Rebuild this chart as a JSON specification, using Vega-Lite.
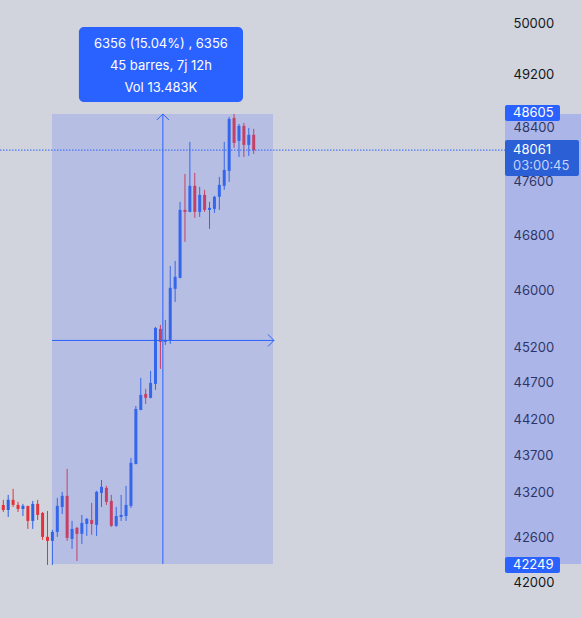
{
  "$schema": "https://vega.github.io/schema/vega-lite/v6.json",
  "width": 581,
  "height": 618,
  "autosize": {"type": "none"},
  "padding": 0,
  "background": "#d1d4dc",
  "config": {
    "view": {"stroke": null},
    "font": "Inter",
    "scale": {"continuousPadding": 0},
    "axisY": {"orient": "right", "offset": -76, "domain": false, "ticks": false, "grid": false, "labelPadding": 8, "labelFontSize": 13, "labelColor": "#131722", "labelFont": "Inter", "labelOverlap": false, "labelFlush": false, "zindex": 1, "format": "d"}
  },
  "datasets": {
    "candles": [
      {"i": 1, "o": 43033, "h": 43101, "l": 42939, "c": 42966},
      {"i": 2, "o": 42966, "h": 43168, "l": 42872, "c": 43101},
      {"i": 3, "o": 43101, "h": 43249, "l": 43006, "c": 43033},
      {"i": 4, "o": 43033, "h": 43074, "l": 42939, "c": 42979},
      {"i": 5, "o": 42979, "h": 43047, "l": 42885, "c": 43020},
      {"i": 6, "o": 43020, "h": 43020, "l": 42713, "c": 42819},
      {"i": 7, "o": 42819, "h": 43087, "l": 42713, "c": 43047},
      {"i": 8, "o": 43047, "h": 43101, "l": 42832, "c": 42899},
      {"i": 9, "o": 42925, "h": 42939, "l": 42567, "c": 42607},
      {"i": 10, "o": 42607, "h": 42952, "l": 42236, "c": 42554},
      {"i": 11, "o": 42554, "h": 42700, "l": 42236, "c": 42673},
      {"i": 12, "o": 42673, "h": 43128, "l": 42607, "c": 43020},
      {"i": 13, "o": 43006, "h": 43209, "l": 42912, "c": 43155},
      {"i": 14, "o": 43155, "h": 43519, "l": 42554, "c": 42594},
      {"i": 15, "o": 42581, "h": 42819, "l": 42448, "c": 42713},
      {"i": 16, "o": 42726, "h": 42740, "l": 42289, "c": 42647},
      {"i": 17, "o": 42647, "h": 42899, "l": 42514, "c": 42793},
      {"i": 18, "o": 42779, "h": 42859, "l": 42620, "c": 42846},
      {"i": 19, "o": 42832, "h": 43060, "l": 42634, "c": 42779},
      {"i": 20, "o": 42766, "h": 43222, "l": 42620, "c": 43209},
      {"i": 21, "o": 43195, "h": 43370, "l": 43006, "c": 43276},
      {"i": 22, "o": 43262, "h": 43289, "l": 43033, "c": 43074},
      {"i": 23, "o": 43087, "h": 43168, "l": 42740, "c": 42753},
      {"i": 24, "o": 42753, "h": 43006, "l": 42740, "c": 42885},
      {"i": 25, "o": 42872, "h": 43168, "l": 42819, "c": 42899},
      {"i": 26, "o": 42885, "h": 43289, "l": 42819, "c": 43033},
      {"i": 27, "o": 43020, "h": 43668, "l": 42993, "c": 43600},
      {"i": 28, "o": 43586, "h": 44380, "l": 43580, "c": 44339},
      {"i": 29, "o": 44325, "h": 44769, "l": 44320, "c": 44533},
      {"i": 30, "o": 44547, "h": 44617, "l": 44408, "c": 44492},
      {"i": 31, "o": 44492, "h": 44867, "l": 44485, "c": 44700},
      {"i": 32, "o": 44686, "h": 45486, "l": 44603, "c": 45472},
      {"i": 33, "o": 45458, "h": 45515, "l": 44895, "c": 45275},
      {"i": 34, "o": 45275, "h": 45585, "l": 45232, "c": 45303},
      {"i": 35, "o": 45303, "h": 46358, "l": 45246, "c": 46043},
      {"i": 36, "o": 46029, "h": 46431, "l": 45842, "c": 46201},
      {"i": 37, "o": 46186, "h": 47292, "l": 46180, "c": 47174},
      {"i": 38, "o": 47174, "h": 47706, "l": 46707, "c": 47145},
      {"i": 39, "o": 47145, "h": 48184, "l": 47140, "c": 47529},
      {"i": 40, "o": 47529, "h": 47721, "l": 47057, "c": 47145},
      {"i": 41, "o": 47145, "h": 47514, "l": 47071, "c": 47396},
      {"i": 42, "o": 47396, "h": 47470, "l": 47145, "c": 47174},
      {"i": 43, "o": 47174, "h": 47292, "l": 46897, "c": 47204},
      {"i": 44, "o": 47189, "h": 47382, "l": 47130, "c": 47367},
      {"i": 45, "o": 47367, "h": 47662, "l": 47174, "c": 47544},
      {"i": 46, "o": 47529, "h": 48184, "l": 47470, "c": 47765},
      {"i": 47, "o": 47751, "h": 48560, "l": 47588, "c": 48530},
      {"i": 48, "o": 48545, "h": 48605, "l": 48094, "c": 48169},
      {"i": 49, "o": 48199, "h": 48455, "l": 47959, "c": 48425},
      {"i": 50, "o": 48425, "h": 48470, "l": 47959, "c": 48139},
      {"i": 51, "o": 48139, "h": 48395, "l": 47974, "c": 48290},
      {"i": 52, "o": 48290, "h": 48380, "l": 48004, "c": 48061}
    ]
  },
  "layer": [
    {
      "data": {"values": [{"x1": 103.18, "x2": 118.66, "y1": 42249, "y2": 48605}]},
      "mark": {"type": "rect", "fill": "#5d72ff", "opacity": 0.32},
      "encoding": {
        "x": {"field": "x1", "type": "quantitative", "scale": {"domain": [0.328, 118.66], "nice": false, "zero": false, "padding": 0}, "axis": null},
        "x2": {"field": "x2"},
        "y": {"field": "y1", "type": "quantitative", "scale": {"type": "log", "domain": [41544, 50361], "nice": false},
          "axis": {"values": [42000, 42600, 43200, 43700, 44200, 44700, 45200, 46000, 46800, 47600, 48400, 49200, 50000], "title": null}},
        "y2": {"field": "y2"}
      }
    },
    {
      "data": {"name": "candles"},
      "mark": {"type": "rule", "strokeWidth": 1},
      "encoding": {
        "x": {"field": "i", "type": "quantitative", "scale": {"domain": [0.328, 118.66], "nice": false, "zero": false, "padding": 0}, "axis": null},
        "y": {"field": "l", "type": "quantitative", "scale": {"type": "log", "domain": [41544, 50361], "nice": false},
          "axis": {"values": [42000, 42600, 43200, 43700, 44200, 44700, 45200, 46000, 46800, 47600, 48400, 49200, 50000], "title": null}},
        "y2": {"field": "h"},
        "color": {"condition": {"test": "datum.c >= datum.o", "value": "#2a63e6"}, "value": "#e2333b"}
      }
    },
    {
      "data": {"name": "candles"},
      "mark": {"type": "bar", "size": 3},
      "encoding": {
        "x": {"field": "i", "type": "quantitative", "scale": {"domain": [0.328, 118.66], "nice": false, "zero": false, "padding": 0}, "axis": null},
        "y": {"field": "o", "type": "quantitative", "scale": {"type": "log", "domain": [41544, 50361], "nice": false},
          "axis": {"values": [42000, 42600, 43200, 43700, 44200, 44700, 45200, 46000, 46800, 47600, 48400, 49200, 50000], "title": null}},
        "y2": {"field": "c"},
        "color": {"condition": {"test": "datum.c >= datum.o", "value": "#2a63e6"}, "value": "#e2333b"}
      }
    },
    {
      "data": {"values": [{"x1": 10.92, "x2": 55.93, "y1": 42249, "y2": 48605}]},
      "mark": {"type": "rect", "fill": "#5d72ff", "opacity": 0.22},
      "encoding": {
        "x": {"field": "x1", "type": "quantitative", "scale": {"domain": [0.328, 118.66], "nice": false, "zero": false, "padding": 0}, "axis": null},
        "x2": {"field": "x2"},
        "y": {"field": "y1", "type": "quantitative", "scale": {"type": "log", "domain": [41544, 50361], "nice": false},
          "axis": {"values": [42000, 42600, 43200, 43700, 44200, 44700, 45200, 46000, 46800, 47600, 48400, 49200, 50000], "title": null}},
        "y2": {"field": "y2"}
      }
    },
    {
      "data": {"values": [{"x1": 0.328, "x2": 103.18, "p": 48061}]},
      "mark": {"type": "rule", "stroke": "#2962ff", "strokeWidth": 1, "strokeDash": [1.5, 1.5]},
      "encoding": {
        "x": {"field": "x1", "type": "quantitative", "scale": {"domain": [0.328, 118.66], "nice": false, "zero": false, "padding": 0}, "axis": null},
        "x2": {"field": "x2"},
        "y": {"field": "p", "type": "quantitative", "scale": {"type": "log", "domain": [41544, 50361], "nice": false},
          "axis": {"values": [42000, 42600, 43200, 43700, 44200, 44700, 45200, 46000, 46800, 47600, 48400, 49200, 50000], "title": null}}
      }
    },
    {
      "data": {"values": [{"x1": 33.5, "x2": 33.5, "y1": 42249, "y2": 48605}, {"x1": 10.92, "x2": 56.1, "y1": 45295, "y2": 45295}]},
      "mark": {"type": "rule", "stroke": "#2962ff", "strokeWidth": 1},
      "encoding": {
        "x": {"field": "x1", "type": "quantitative", "scale": {"domain": [0.328, 118.66], "nice": false, "zero": false, "padding": 0}, "axis": null},
        "x2": {"field": "x2"},
        "y": {"field": "y1", "type": "quantitative", "scale": {"type": "log", "domain": [41544, 50361], "nice": false},
          "axis": {"values": [42000, 42600, 43200, 43700, 44200, 44700, 45200, 46000, 46800, 47600, 48400, 49200, 50000], "title": null}},
        "y2": {"field": "y2"}
      }
    },
    {
      "data": {"values": [{"x": 33.5, "y": 48605, "s": "up"}]},
      "mark": {"type": "point", "shape": "M-1,1L0,0L1,1", "filled": false, "stroke": "#2962ff", "strokeWidth": 1, "size": 144, "opacity": 1},
      "encoding": {
        "x": {"field": "x", "type": "quantitative", "scale": {"domain": [0.328, 118.66], "nice": false, "zero": false, "padding": 0}, "axis": null},
        "y": {"field": "y", "type": "quantitative", "scale": {"type": "log", "domain": [41544, 50361], "nice": false},
          "axis": {"values": [42000, 42600, 43200, 43700, 44200, 44700, 45200, 46000, 46800, 47600, 48400, 49200, 50000], "title": null}}
      }
    },
    {
      "data": {"values": [{"x": 56.13, "y": 45295, "s": "right"}]},
      "mark": {"type": "point", "shape": "M-1,-1L0,0L-1,1", "filled": false, "stroke": "#2962ff", "strokeWidth": 1, "size": 144, "opacity": 1},
      "encoding": {
        "x": {"field": "x", "type": "quantitative", "scale": {"domain": [0.328, 118.66], "nice": false, "zero": false, "padding": 0}, "axis": null},
        "y": {"field": "y", "type": "quantitative", "scale": {"type": "log", "domain": [41544, 50361], "nice": false},
          "axis": {"values": [42000, 42600, 43200, 43700, 44200, 44700, 45200, 46000, 46800, 47600, 48400, 49200, 50000], "title": null}}
      }
    },
    {
      "data": {"values": [{"x1": 16.4, "x2": 49.82, "y1": 48787, "y2": 49940}]},
      "mark": {"type": "rect", "fill": "#2962ff", "cornerRadius": 5},
      "encoding": {
        "x": {"field": "x1", "type": "quantitative", "scale": {"domain": [0.328, 118.66], "nice": false, "zero": false, "padding": 0}, "axis": null},
        "x2": {"field": "x2"},
        "y": {"field": "y1", "type": "quantitative", "scale": {"type": "log", "domain": [41544, 50361], "nice": false},
          "axis": {"values": [42000, 42600, 43200, 43700, 44200, 44700, 45200, 46000, 46800, 47600, 48400, 49200, 50000], "title": null}},
        "y2": {"field": "y2"}
      }
    },
    {
      "data": {"values": [
        {"x": 33.1, "y": 49676, "t": "6356 (15.04%) , 6356"},
        {"x": 33.1, "y": 49337, "t": "45 barres, 7j 12h"},
        {"x": 33.1, "y": 49000, "t": "Vol 13.483K"}
      ]},
      "mark": {"type": "text", "color": "#ffffff", "fontSize": 13, "font": "Inter", "align": "center", "baseline": "middle"},
      "encoding": {
        "x": {"field": "x", "type": "quantitative", "scale": {"domain": [0.328, 118.66], "nice": false, "zero": false, "padding": 0}, "axis": null},
        "y": {"field": "y", "type": "quantitative", "scale": {"type": "log", "domain": [41544, 50361], "nice": false},
          "axis": {"values": [42000, 42600, 43200, 43700, 44200, 44700, 45200, 46000, 46800, 47600, 48400, 49200, 50000], "title": null}},
        "text": {"field": "t"}
      }
    },
    {
      "data": {"values": [{"x1": 103.18, "x2": 114.38, "y1": 48499, "y2": 48741}, {"x1": 103.18, "x2": 114.38, "y1": 42131, "y2": 42341}]},
      "mark": {"type": "rect", "fill": "#2962ff", "cornerRadius": 2},
      "encoding": {
        "x": {"field": "x1", "type": "quantitative", "scale": {"domain": [0.328, 118.66], "nice": false, "zero": false, "padding": 0}, "axis": null},
        "x2": {"field": "x2"},
        "y": {"field": "y1", "type": "quantitative", "scale": {"type": "log", "domain": [41544, 50361], "nice": false},
          "axis": {"values": [42000, 42600, 43200, 43700, 44200, 44700, 45200, 46000, 46800, 47600, 48400, 49200, 50000], "title": null}},
        "y2": {"field": "y2"}
      }
    },
    {
      "data": {"values": [{"x1": 103.18, "x2": 118.25, "y1": 47676, "y2": 48213}]},
      "mark": {"type": "rect", "fill": "#2a5fd6", "cornerRadius": 2},
      "encoding": {
        "x": {"field": "x1", "type": "quantitative", "scale": {"domain": [0.328, 118.66], "nice": false, "zero": false, "padding": 0}, "axis": null},
        "x2": {"field": "x2"},
        "y": {"field": "y1", "type": "quantitative", "scale": {"type": "log", "domain": [41544, 50361], "nice": false},
          "axis": {"values": [42000, 42600, 43200, 43700, 44200, 44700, 45200, 46000, 46800, 47600, 48400, 49200, 50000], "title": null}},
        "y2": {"field": "y2"}
      }
    },
    {
      "data": {"values": [
        {"x": 104.81, "y": 48625, "t": "48605", "k": "a"},
        {"x": 104.81, "y": 42236, "t": "42249", "k": "a"},
        {"x": 104.81, "y": 48064, "t": "48061", "k": "a"},
        {"x": 104.81, "y": 47824, "t": "03:00:45", "k": "b"}
      ]},
      "mark": {"type": "text", "fontSize": 13, "font": "Inter", "align": "left", "baseline": "middle"},
      "encoding": {
        "x": {"field": "x", "type": "quantitative", "scale": {"domain": [0.328, 118.66], "nice": false, "zero": false, "padding": 0}, "axis": null},
        "y": {"field": "y", "type": "quantitative", "scale": {"type": "log", "domain": [41544, 50361], "nice": false},
          "axis": {"values": [42000, 42600, 43200, 43700, 44200, 44700, 45200, 46000, 46800, 47600, 48400, 49200, 50000], "title": null}},
        "text": {"field": "t"},
        "color": {"condition": {"test": "datum.k == 'b'", "value": "#c5d3ff"}, "value": "#ffffff"}
      }
    }
  ]
}
